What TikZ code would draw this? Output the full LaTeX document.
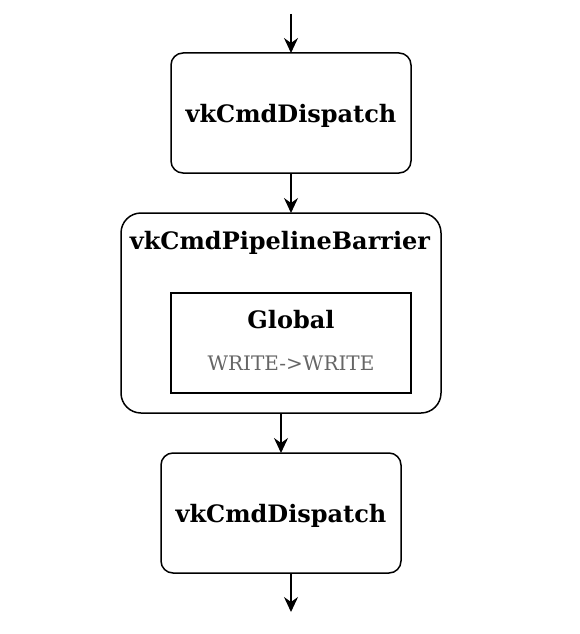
\documentclass[tikz,border=0pt]{standalone}
\usepackage{fontspec}
\setmainfont{DejaVu Serif}
\usetikzlibrary{arrows.meta}
\begin{document}
\begin{tikzpicture}[x=1pt,y=-1pt,
  every node/.style={inner sep=0pt, outer sep=0pt},
  cmdbox/.style={draw, line width=1.5pt, rounded corners=12pt, minimum width=240pt, minimum height=120pt, text height=18pt, text depth=0pt, font=\fontsize{24}{28}\selectfont\bfseries},
  barrierbox/.style={draw, line width=1.5pt, rounded corners=20pt, minimum width=320pt, minimum height=200pt},
  innerbox/.style={draw, line width=1.5pt, minimum width=240pt, minimum height=100pt},
  titletext/.style={anchor=base, font=\fontsize{24}{28}\selectfont\bfseries},
  subtext/.style={anchor=base, font=\fontsize{20}{24}\selectfont, text=black!60},
  flow/.style={line width=1.5pt, -{Stealth[length=15pt,width=14pt,inset=5pt]}}
]
\useasboundingbox (0,0) rectangle (580,634);
\coordinate (start) at (291,14);
\node[cmdbox] (d1) at (291,113) {vkCmdDispatch};
\node[barrierbox] (bar) at (281,313) {};
\node[titletext] (bartitle) at (280,249) {vkCmdPipelineBarrier};
\node[innerbox] (glob) at (291,343) {};
\node[titletext] (globtitle) at (291,328.5) {Global};
\node[subtext] (globsub) at (291,370) {WRITE->WRITE};
\node[cmdbox] (d2) at (281,513) {vkCmdDispatch};
\coordinate (d2out) at (291,573);
\coordinate (finish) at (291,612);
\draw[flow] (start) -- (d1.north);
\draw[flow] (d1.south) -- (d1.south |- bar.north);
\draw[flow] (bar.south) -- (d2.north);
\draw[flow] (d2out) -- (finish);
\end{tikzpicture}
\end{document}
